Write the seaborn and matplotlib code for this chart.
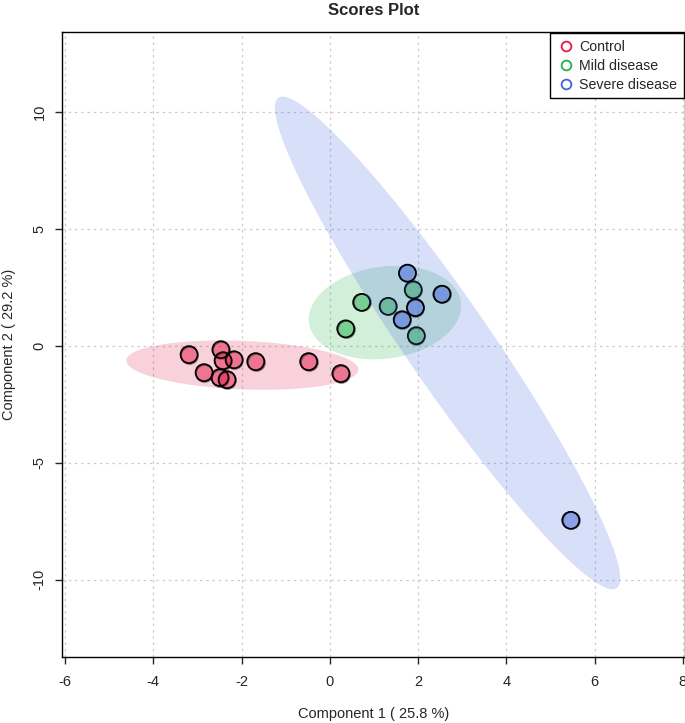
import numpy as np
import pandas as pd
import seaborn as sns
import matplotlib.pyplot as plt
from matplotlib.lines import Line2D

# scores
control_x = [-3.19, -2.47, -2.42, -2.17, -2.85, -2.49, -2.33, -1.68, -0.48, 0.25]
control_y = [-0.38, -0.17, -0.64, -0.60, -1.15, -1.36, -1.45, -0.68, -0.68, -1.19]
mild_x = [1.89, 0.72, 1.32, 0.36, 1.96]
mild_y = [2.39, 1.85, 1.68, 0.72, 0.43]
severe_x = [1.76, 2.54, 1.94, 1.64, 5.46]
severe_y = [3.10, 2.20, 1.63, 1.11, -7.46]

groups = ["Control", "Mild disease", "Severe disease"]
colors = ["#E41A4A", "#22B04A", "#3F62E0"]
x_ticks = [-6, -4, -2, 0, 2, 4, 6, 8]
y_ticks = [-10, -5, 0, 5, 10]

df = pd.DataFrame({
    "pc1": control_x + mild_x + severe_x,
    "pc2": control_y + mild_y + severe_y,
    "group": ["Control"] * len(control_x) + ["Mild disease"] * len(mild_x)
             + ["Severe disease"] * len(severe_x),
})

sns.set_style("white")
plt.rcParams["font.family"] = ["Liberation Sans", "DejaVu Sans"]
plt.rcParams["axes.unicode_minus"] = False

fig = plt.figure(figsize=(6.85, 7.23), dpi=100)
ax = fig.add_axes([62 / 685, 66 / 723, 623 / 685, 625 / 723])

# 95% confidence ellipse from sample covariance
r = np.sqrt(-2 * np.log(0.05))
t = np.linspace(0, 2 * np.pi, 200)
for i, g in enumerate(groups):
    sub = df[df.group == g]
    cov = np.cov(sub.pc1, sub.pc2)
    vals, vecs = np.linalg.eigh(cov)
    circ = np.vstack([np.cos(t), np.sin(t)]) * np.sqrt(vals)[:, None] * r
    pts = vecs @ circ
    ax.fill(pts[0] + sub.pc1.mean(), pts[1] + sub.pc2.mean(),
            color=colors[i], alpha=0.2, lw=0, zorder=2 + 2 * i)
    sns.scatterplot(data=sub, x="pc1", y="pc2", color=colors[i], alpha=0.5,
                    s=150, edgecolor="black", linewidth=1.2, ax=ax,
                    zorder=3 + 2 * i, legend=False)
    # solid black rims on top
    ax.scatter(sub.pc1, sub.pc2, s=150, facecolor="none", edgecolor="black",
               linewidth=1.2, zorder=3 + 2 * i)

ax.set_xlim(-6.07, 8.05)
ax.set_ylim(-13.3, 13.4)
ax.set_xticks(x_ticks)
ax.set_yticks(y_ticks)
ax.grid(True, color="#CCCCCC", linestyle=(0, (2, 3)), linewidth=0.9)
ax.set_axisbelow(True)
for s in ax.spines.values():
    s.set_color("black")
    s.set_linewidth(1.0)
ax.tick_params(axis="both", direction="out", length=5, width=1,
               labelsize=10.5, bottom=True, left=True)
ax.tick_params(axis="x", pad=8)
ax.tick_params(axis="y", pad=6)
for lab in ax.get_yticklabels():
    lab.set_rotation(90)
    lab.set_va("center")

ax.set_xlabel("Component 1 ( 25.8 %)", fontsize=10.5, labelpad=13)
ax.set_ylabel("Component 2 ( 29.2 %)", fontsize=10.5, labelpad=12)
ax.set_title("Scores Plot", fontsize=12, fontweight="bold", pad=12)

handles = [Line2D([], [], marker="o", linestyle="", markersize=7,
                  markerfacecolor="none", markeredgecolor=c, markeredgewidth=1.3)
           for c in colors]
leg = ax.legend(handles, groups, loc="upper right", fontsize=10.2, frameon=True,
                fancybox=False, edgecolor="black", framealpha=1,
                borderaxespad=0.1, handletextpad=0.3, labelspacing=0.35,
                handlelength=1.3, borderpad=0.45)
leg.get_frame().set_linewidth(1.0)

fig.savefig("out.png", dpi=100)
